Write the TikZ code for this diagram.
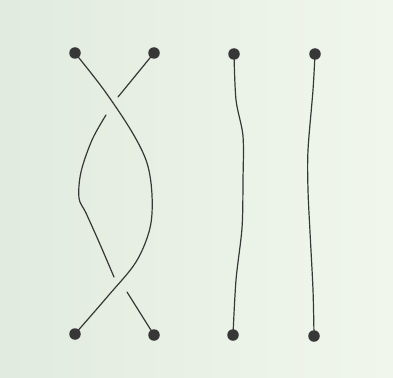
\documentclass[tikz,border=0pt]{standalone}
\definecolor{bgleft}{RGB}{226,235,223}
\definecolor{bgright}{RGB}{240,246,236}
\definecolor{ink}{RGB}{55,55,55}
\begin{document}
\begin{tikzpicture}[x=1pt,y=-1pt,
  strand/.style={draw=ink,line width=1.2pt,line cap=round},
  knot/.style={circle,fill=ink,inner sep=0pt,minimum size=11.5pt}]
\shade[left color=bgleft,right color=bgright] (0,0) rectangle (393,377);
\useasboundingbox (0,0) rectangle (393,377);
% dots
\coordinate (t1) at (75,53);
\coordinate (t2) at (154,53);
\coordinate (t3) at (234,54);
\coordinate (t4) at (315,54);
\coordinate (b1) at (75,334);
\coordinate (b2) at (154,335);
\coordinate (b3) at (233,335);
\coordinate (b4) at (314,336);
% gap ends of the under strand
\coordinate (g1) at (118,97);
\coordinate (g2) at (106,115);
\coordinate (g3) at (114,277);
\coordinate (g4) at (127,292);
% over strand
\draw[strand] plot[smooth,tension=0.55] coordinates
  {(t1) (104,90) (132,132) (147,163) (152,195) (150,228) (136,262) (108,296) (75,334)};
% under strand
\draw[strand] (t2) -- (g1);
\draw[strand] plot[smooth,tension=0.55] coordinates
  {(g2) (92,140) (81,172) (79,198) (86,213) (99,242) (g3)};
\draw[strand] (g4) -- (b2);
% straight strands
\draw[strand] plot[smooth,tension=0.5] coordinates
  {(t3) (236,100) (243,136) (243,180) (242,228) (236,280) (b3)};
\draw[strand] plot[smooth,tension=0.5] coordinates
  {(t4) (313,90) (308,150) (308,190) (310,232) (313,290) (b4)};
\foreach \n in {t1,t2,t3,t4,b1,b2,b3,b4}
  \node[knot] (d\n) at (\n) {};
\end{tikzpicture}
\end{document}
